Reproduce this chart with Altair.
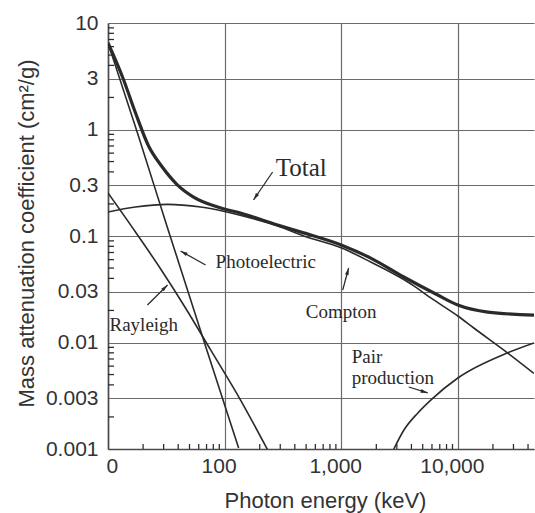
import altair as alt
import pandas as pd

# Mass attenuation coefficients of water by interaction process
# photon energy in keV, coefficient in cm²/g
total_e = [10, 13.32, 17.22, 22.28, 28.77, 39.5, 54.2, 87.1, 137, 285, 476,
           1010, 1790, 3440, 6730, 10000, 18100, 45000]
total_mu = [6.5, 3.11, 1.43, 0.700, 0.454, 0.301, 0.232, 0.187, 0.164, 0.127,
            0.107, 0.082, 0.062, 0.0412, 0.0279, 0.0225, 0.0193, 0.0181]

compton_e = [10, 17.2, 32.4, 62.2, 100, 167, 285, 476, 1010, 1790, 3440, 4190,
             5860, 10000, 13700, 26800, 45000]
compton_mu = [0.168, 0.187, 0.198, 0.187, 0.170, 0.1476, 0.124, 0.100, 0.0771,
              0.057, 0.039, 0.034, 0.0262, 0.01774, 0.01368, 0.00796, 0.00512]

photo_e = [10, 17.9, 31.8, 66.1, 132]
photo_mu = [6.5, 0.927, 0.127, 0.0105, 0.00102]

rayleigh_e = [10, 17.2, 28.3, 46.2, 75.9, 137, 234]
rayleigh_mu = [0.2535, 0.109, 0.049, 0.0211, 0.00851, 0.00288, 0.00098]

pair_e = [2825, 3440, 4540, 5860, 10000, 26800, 45000]
pair_mu = [0.001, 0.0015, 0.00218, 0.00288, 0.00464, 0.008, 0.0099]

# Axis labels
x_ticks = [10, 100, 1000, 10000]
y_ticks = [0.001, 0.003, 0.01, 0.03, 0.1, 0.3, 1, 3, 10]

# Curve labels and their pointer arrows
label_text = ["Photoelectric", "Rayleigh", "Compton", "Pair", "production"]
label_e = [83.7, 10.3, 496, 1230, 1230]
label_mu = [0.057, 0.0146, 0.0193, 0.00731, 0.00464]

total_label_e = [274]
total_label_mu = [0.435]

arrow_from_e = [258, 68.7, 21.8, 1030, 3795]
arrow_from_mu = [0.399, 0.0535, 0.0225, 0.0311, 0.00382]
arrow_to_e = [177, 41.9, 32.4, 1158, 5520]
arrow_to_mu = [0.218, 0.0723, 0.0347, 0.0501, 0.00336]
arrow_angle = [214, 299, 45, 15, 107]

# Minor tick positions along both log axes
y_minor = [m * 10.0 ** k for k in range(-3, 1) for m in (2, 4, 5, 6, 7, 8, 9)]
x_minor = [m * 10 ** k for k in range(1, 5) for m in (2, 3, 4, 5, 6, 7, 8, 9)
           if m * 10 ** k <= 45000]

INK = "#2a2a2a"
SANS = "Liberation Sans"
SERIF = "Liberation Serif"

X_LO, Y_LO = 10, 0.001
# inward reach of a minor tick, in data units along the log axes
X_TICK_END, Y_TICK_END = 11.26, 0.001114

xs = alt.Scale(type="log", domain=[X_LO, 45000], nice=False)
ys = alt.Scale(type="log", domain=[Y_LO, 10], nice=False)

x_axis = alt.Axis(
    values=x_ticks,
    labelExpr="datum.value == 10 ? '0' : format(datum.value, ',')",
    title="Photon energy (keV)",
    grid=True, gridColor="#6b6b6b", gridWidth=1.2,
    domainColor="#4a4a4a", domainWidth=1.6,
    ticks=False,
    labelFont=SANS, labelFontSize=21, labelColor="#333333", labelPadding=6,
    labelOffset={"condition": {"test": "datum.value <= 10", "value": -2}, "value": -6},
    titleFont=SANS, titleFontSize=22, titleFontWeight="normal", titleColor="#333333",
    titleX=217, titleY=58, titleAlign="center", titleBaseline="alphabetic",
)
y_axis = alt.Axis(
    values=y_ticks,
    labelExpr="format(datum.value, '~g')",
    title="Mass attenuation coefficient (cm²/g)",
    grid=True, gridColor="#6b6b6b", gridWidth=1.2,
    domainColor="#4a4a4a", domainWidth=1.6,
    ticks=False,
    labelFont=SANS, labelFontSize=21, labelColor="#333333", labelPadding=10,
    titleFont=SANS, titleFontSize=22, titleFontWeight="normal", titleColor="#333333",
    titleX=-75, titleY=210, titleAlign="center", titleBaseline="alphabetic",
)


def X(field):
    return alt.X(field, scale=xs, axis=x_axis)


def Y(field):
    return alt.Y(field, scale=ys, axis=y_axis)


total = pd.DataFrame({"energy": total_e, "mu": total_mu})
parts = pd.concat([
    pd.DataFrame({"process": "Compton", "energy": compton_e, "mu": compton_mu}),
    pd.DataFrame({"process": "Photoelectric", "energy": photo_e, "mu": photo_mu}),
    pd.DataFrame({"process": "Rayleigh", "energy": rayleigh_e, "mu": rayleigh_mu}),
    pd.DataFrame({"process": "Pair", "energy": pair_e, "mu": pair_mu}),
])

total_line = alt.Chart(total).mark_line(
    color=INK, strokeWidth=3.2, interpolate="monotone", clip=True
).encode(x=X("energy:Q"), y=Y("mu:Q"))

part_lines = alt.Chart(parts).mark_line(
    color=INK, strokeWidth=1.6, interpolate="monotone", clip=True
).encode(x=X("energy:Q"), y=Y("mu:Q"), detail="process:N")

labels = alt.Chart(pd.DataFrame({"t": label_text, "e": label_e, "mu": label_mu})).mark_text(
    align="left", baseline="middle", font=SERIF, fontSize=19, color=INK
).encode(x=X("e:Q"), y=Y("mu:Q"), text="t:N")

total_label = alt.Chart(pd.DataFrame({"t": ["Total"], "e": total_label_e, "mu": total_label_mu})).mark_text(
    align="left", baseline="middle", font=SERIF, fontSize=25, color=INK
).encode(x=X("e:Q"), y=Y("mu:Q"), text="t:N")

arrows_df = pd.DataFrame({
    "e0": arrow_from_e, "m0": arrow_from_mu,
    "e1": arrow_to_e, "m1": arrow_to_mu, "ang": arrow_angle,
})

# Straight segments: arrow shafts plus the short inward minor ticks
segments = pd.concat([
    arrows_df[["e0", "m0", "e1", "m1"]],
    pd.DataFrame({"e0": X_LO, "m0": y_minor, "e1": X_TICK_END, "m1": y_minor}),
    pd.DataFrame({"e0": x_minor, "m0": Y_LO, "e1": x_minor, "m1": Y_TICK_END}),
], ignore_index=True)

shafts = alt.Chart(segments).mark_rule(color=INK, strokeWidth=1.25).encode(
    x=X("e0:Q"), y=Y("m0:Q"), x2="e1:Q", y2="m1:Q",
)
heads = alt.Chart(arrows_df).mark_point(
    shape="M0,0L0.45,1.7L-0.45,1.7Z", filled=True, size=70, color=INK, opacity=1
).encode(
    x=X("e1:Q"), y=Y("m1:Q"),
    angle=alt.Angle("ang:Q", scale=None),
)

chart = alt.layer(
    total_line, part_lines, shafts, heads, labels, total_label,
).properties(
    width=426, height=426,
    autosize=alt.AutoSizeParams(type="none"),
    padding={"left": 108, "top": 23, "right": 1, "bottom": 64},
).configure_view(strokeOpacity=0)

chart.save("out.html", embed_options={"renderer": "svg", "actions": False})
